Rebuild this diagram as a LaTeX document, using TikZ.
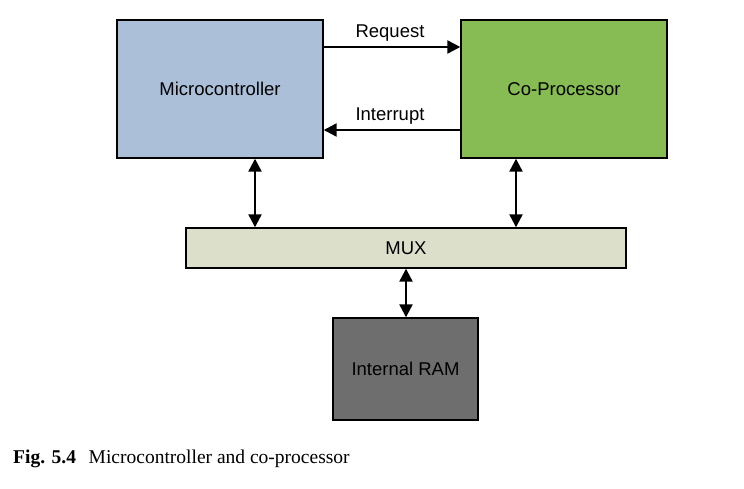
\documentclass[tikz,border=0pt]{standalone}
\usepackage{fontspec}
\setmainfont{Liberation Serif}
\setsansfont{Liberation Sans}
\usetikzlibrary{arrows.meta}
\definecolor{mcblue}{HTML}{ABBFD9}
\definecolor{cogreen}{HTML}{86BC53}
\definecolor{muxcol}{HTML}{DCE0CA}
\definecolor{ramgray}{HTML}{6E6E6E}
\tikzset{
  blk/.style={draw=black, line width=1.4pt, inner sep=0pt, font=\sffamily\fontsize{18.5}{21}\selectfont},
  conn/.style={line width=2.3pt, -{Triangle[length=13pt,width=13pt]}},
  dconn/.style={line width=2.3pt, {Triangle[length=13pt,width=13pt]}-{Triangle[length=13pt,width=13pt]}},
  lbl/.style={font=\sffamily\fontsize{18.5}{21}\selectfont, inner sep=0pt}
}
\begin{document}
\begin{tikzpicture}[x=1pt,y=-1pt]
\useasboundingbox (0,0) rectangle (744,489);
\node[blk, fill=mcblue, minimum width=206pt, minimum height=138pt] (mc) at (220,89) {Microcontroller};
\node[blk, fill=cogreen, minimum width=206pt, minimum height=138pt] (cp) at (564,89) {Co-Processor};
\node[blk, fill=muxcol, minimum width=440pt, minimum height=40pt] (mux) at (406,248) {MUX};
\node[blk, fill=ramgray, minimum width=145pt, minimum height=102pt] (ram) at (405.5,369) {Internal RAM};
\coordinate (rq1) at (323,47); \coordinate (rq2) at (461,47);
\coordinate (ir1) at (461,130); \coordinate (ir2) at (323,130);
\draw[conn] (mc.east |- rq1) -- (cp.west |- rq2);
\draw[conn] (cp.west |- ir1) -- (mc.east |- ir2);
\node[lbl] (req) at (390,33) {Request};
\node[lbl] (int) at (390,116) {Interrupt};
\coordinate (lx) at (255,0); \coordinate (rx) at (516,0); \coordinate (mx) at (406,0);
\draw[dconn] (mc.south -| lx) -- (mux.north -| lx);
\draw[dconn] (cp.south -| rx) -- (mux.north -| rx);
\draw[dconn] (mux.south -| mx) -- (ram.north -| mx);
\node[anchor=base west, inner sep=0pt, font=\fontsize{19.5}{22}\selectfont] (cap) at (13,463) {\textbf{Fig. 5.4}\hspace{0.65em}Microcontroller and co-processor};
\end{tikzpicture}
\end{document}
